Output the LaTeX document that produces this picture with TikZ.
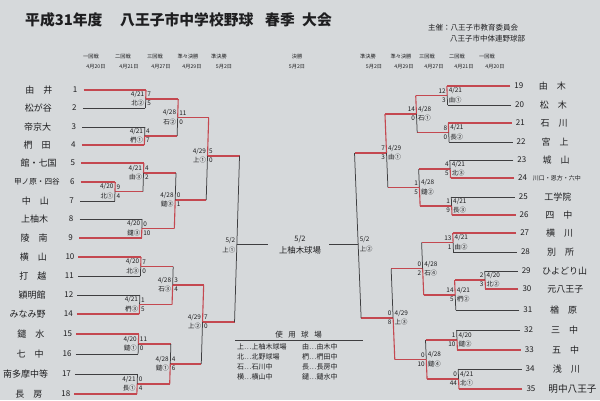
\documentclass[tikz,border=0pt]{standalone}
\usepackage{fontspec}
\setmainfont{Noto Sans CJK JP}
\definecolor{bgc}{RGB}{214,217,219}
\definecolor{wr}{RGB}{196,72,80}
\definecolor{lk}{RGB}{62,62,64}
\definecolor{tx}{RGB}{30,30,32}
\newcommand{\fsz}[1]{\fontsize{#1}{#1}\selectfont}
\tikzset{
 win/.style={draw=wr, line width=1.1pt},
 lose/.style={draw=lk, line width=0.75pt},
 lab/.style={font=\fsz{6.4}, text=tx, inner sep=0.4pt},
 team/.style={font=\fsz{9}, text=tx, inner sep=0},
 num/.style={font=\fsz{8}, text=tx, inner sep=0},
 hdr/.style={font=\fsz{5.2}, text=tx, inner sep=0},
 ven/.style={font=\fsz{7}, text=tx, inner sep=0, anchor=west},
}
% left match: x, ytop, ymid, ybot, winner(t/b), date, venue, score top, score bottom
\newcommand{\Lm}[9]{%
 \if t#5
  \draw[win] (#1,#2) -- (#1,#3); \draw[lose] (#1,#3) -- (#1,#4);
 \else
  \draw[lose] (#1,#2) -- (#1,#3); \draw[win] (#1,#3) -- (#1,#4);
 \fi
 \node[lab,anchor=east,xshift=-1pt,yshift=4.5pt] at (#1,#3) {#6};
 \node[lab,anchor=east,xshift=-1pt,yshift=-4.5pt] at (#1,#3) {#7};
 \node[lab,anchor=west,xshift=1pt,yshift=4.5pt] at (#1,#3) {#8};
 \node[lab,anchor=west,xshift=1pt,yshift=-4.5pt] at (#1,#3) {#9};
}
% right match: same, mirrored labels
\newcommand{\Rm}[9]{%
 \if t#5
  \draw[win] (#1,#2) -- (#1,#3); \draw[lose] (#1,#3) -- (#1,#4);
 \else
  \draw[lose] (#1,#2) -- (#1,#3); \draw[win] (#1,#3) -- (#1,#4);
 \fi
 \node[lab,anchor=west,xshift=1pt,yshift=4.5pt] at (#1,#3) {#6};
 \node[lab,anchor=west,xshift=1pt,yshift=-4.5pt] at (#1,#3) {#7};
 \node[lab,anchor=east,xshift=-1pt,yshift=4.5pt] at (#1,#3) {#8};
 \node[lab,anchor=east,xshift=-1pt,yshift=-4.5pt] at (#1,#3) {#9};
}
\begin{document}
\begin{tikzpicture}[x=1pt,y=-1pt]
\fill[bgc] (0,0) rectangle (600,400);
\useasboundingbox (0,0) rectangle (600,400);

% ---------- title and headers ----------
\node[font=\fsz{14.8}\bfseries, text=tx, anchor=west, inner sep=0] (ti1) at (25,20) {平成31年度};
\node[font=\fsz{14.8}\bfseries, text=tx, anchor=west, inner sep=0] (ti2) at (120,20) {八王子市中学校野球};
\node[font=\fsz{14.8}\bfseries, text=tx, anchor=west, inner sep=0] (ti3) at (265,20) {春季};
\node[font=\fsz{14.8}\bfseries, text=tx, anchor=west, inner sep=0] (ti4) at (302,20) {大会};
\node[font=\fsz{7.5}, text=tx, anchor=west, inner sep=0] (org1) at (428,28) {主催：八王子市教育委員会};
\node[font=\fsz{7.5}, text=tx, anchor=west, inner sep=0] (org2) at (450,38.5) {八王子市中体連野球部};

\node[hdr] (h1) at (91,57) {一回戦};   \node[hdr] (d1) at (96,67) {4月20日};
\node[hdr] (h2) at (123,57) {二回戦};  \node[hdr] (d2) at (129,67) {4月21日};
\node[hdr] (h3) at (155,57) {三回戦};  \node[hdr] (d3) at (161,67) {4月27日};
\node[hdr] (h4) at (188,57) {準々決勝}; \node[hdr] (d4) at (192,67) {4月29日};
\node[hdr] (h5) at (219,57) {準決勝};  \node[hdr] (d5) at (224,67) {5月2日};
\node[hdr] (h6) at (297,57) {決勝};    \node[hdr] (d6) at (297,67) {5月2日};
\node[hdr] (h7) at (368,57) {準決勝};  \node[hdr] (d7) at (374,67) {5月2日};
\node[hdr] (h8) at (401,57) {準々決勝}; \node[hdr] (d8) at (404,67) {4月29日};
\node[hdr] (h9) at (427,57) {三回戦};  \node[hdr] (d9) at (434,67) {4月27日};
\node[hdr] (h10) at (457,57) {二回戦}; \node[hdr] (d10) at (464,67) {4月21日};
\node[hdr] (h11) at (487,57) {一回戦}; \node[hdr] (d11) at (495,67) {4月20日};

% ---------- left names ----------
\begin{scope}[xshift=7.92pt, xslant=0.033]
\node[team] (n1) at (34,90) {由　井};
\node[team] (n2) at (34,108) {松が谷};
\node[team] (n3) at (34,127) {帝京大};
\node[team] (n4) at (34,145) {椚　田};
\node[team] (n5) at (36,163) {館・七国};
\node[team,font=\fsz{7.6}] (n6) at (35,182) {甲ノ原・四谷};
\node[team] (n7) at (34,201) {中　山};
\node[team] (n8) at (34,219) {上柚木};
\node[team] (n9) at (34,238) {陵　南};
\node[team] (n10) at (34,257) {横　山};
\node[team] (n11) at (34,276) {打　越};
\node[team] (n12) at (34,295) {穎明館};
\node[team] (n14) at (30,314) {みなみ野};
\node[team] (n15) at (34,334) {鑓　水};
\node[team] (n16) at (34,354) {七　中};
\node[team] (n17) at (30,374) {南多摩中等};
\node[team] (n18) at (34,394) {長　房};
\end{scope}

% ---------- left bracket ----------
\begin{scope}[xshift=7.2pt, xslant=0.03]
\foreach \n/\y in {1/90,2/108,3/127,4/145,5/163,6/182,7/201,8/219,9/238,10/257,11/276,12/295,14/314,15/334,16/354,17/374,18/394}
  \node[num] (k\n) at (70.5,\y) {\n};
% team lines
\draw[win]  (79,90)  -- (141.5,90);
\draw[lose] (79,108) -- (141.5,108);
\draw[lose] (79,127) -- (141.5,127);
\draw[win]  (79,145) -- (141.5,145);
\draw[win]  (79,163) -- (141.5,163);
\draw[win]  (79,182) -- (113.5,182);
\draw[lose] (79,201) -- (113.5,201);
\draw[lose] (79,219) -- (141.5,219);
\draw[win]  (79,238) -- (141.5,238);
\draw[win]  (79,257) -- (141.5,257);
\draw[lose] (79,276) -- (141.5,276);
\draw[lose] (79,295) -- (141.5,295);
\draw[win]  (79,314) -- (141.5,314);
\draw[win]  (79,334) -- (141.5,334);
\draw[lose] (79,354) -- (141.5,354);
\draw[lose] (79,374) -- (141.5,374);
\draw[win]  (79,394) -- (141.5,394);
% advancing lines
\draw[win] (113.5,191.5) -- (141.5,191.5);
\draw[win] (141.5,99) -- (174,99);
\draw[win] (141.5,136) -- (174,136);
\draw[win] (141.5,173) -- (174,173);
\draw[win] (141.5,228.5) -- (174,228.5);
\draw[win] (141.5,266.5) -- (174,266.5);
\draw[win] (141.5,304.5) -- (174,304.5);
\draw[win] (141.5,344) -- (174,344);
\draw[win] (141.5,384) -- (174,384);
\draw[win] (174,117.5) -- (205,117.5);
\draw[win] (174,200) -- (205,200);
\draw[win] (174,285) -- (205,285);
\draw[win] (174,364) -- (205,364);
\draw[win] (205,156) -- (237,156);
\draw[win] (205,322) -- (237,322);
% matches
\Lm{113.5}{182}{191.5}{201}{t}{4/20}{北①}{9}{4}
\Lm{141.5}{90}{99}{108}{t}{4/21}{北②}{7}{5}
\Lm{141.5}{127}{136}{145}{b}{4/21}{椚①}{4}{7}
\Lm{141.5}{163}{173}{191.5}{t}{4/21}{由③}{4}{2}
\Lm{141.5}{219}{228.5}{238}{b}{4/20}{鑓③}{0}{10}
\Lm{141.5}{257}{266.5}{276}{t}{4/20}{北③}{7}{0}
\Lm{141.5}{295}{304.5}{314}{b}{4/21}{椚③}{1}{5}
\Lm{141.5}{334}{344}{354}{t}{4/20}{鑓①}{11}{0}
\Lm{141.5}{374}{384}{394}{b}{4/21}{長①}{0}{4}
\Lm{174}{99}{117.5}{136}{t}{4/28}{石②}{11}{0}
\Lm{174}{173}{200}{228.5}{b}{4/28}{鑓③}{0}{1}
\Lm{174}{266.5}{285}{304.5}{b}{4/28}{石③}{3}{4}
\Lm{174}{344}{364}{384}{b}{4/28}{鑓①}{4}{6}
\Lm{205}{117.5}{156}{200}{t}{4/29}{上①}{5}{0}
\Lm{205}{285}{322}{364}{t}{4/29}{上②}{7}{0}
% semifinal (5/2)
\draw[lose] (237,156) -- (237,322);
\node[lab,anchor=east,xshift=-1pt,yshift=4.5pt] (lsf1) at (237,245.5) {5/2};
\node[lab,anchor=east,xshift=-1pt,yshift=-4.5pt] (lsf2) at (237,245.5) {上①};
\coordinate (LF) at (237,244);
\end{scope}

% ---------- right names ----------
\begin{scope}[xshift=-12pt, xslant=-0.05]
\node[team] (n19) at (560,86) {由　木};
\node[team] (n20) at (560,105) {松　木};
\node[team] (n21) at (560,123) {石　川};
\node[team] (n22) at (560,142) {宮　上};
\node[team] (n23) at (560,160) {城　山};
\node[team,font=\fsz{6}] (n24) at (560,178) {川口・恩方・六中};
\node[team] (n25) at (560,197) {工学院};
\node[team] (n26) at (560,215) {四　中};
\node[team] (n27) at (560,233) {横　川};
\node[team] (n28) at (560,252) {別　所};
\node[team] (n29) at (563,271) {ひよどり山};
\node[team] (n30) at (563,289) {元八王子};
\node[team] (n31) at (560,310) {楢　原};
\node[team] (n32) at (560,330) {三　中};
\node[team] (n33) at (560,350) {五　中};
\node[team] (n34) at (560,369) {浅　川};
\node[team,font=\fsz{9.6}] (n35) at (565,389) {明中八王子};
\end{scope}

% ---------- right bracket ----------
\begin{scope}[xshift=-9.6pt, xslant=-0.04]
\foreach \n/\y in {19/86,20/105,21/123,22/142,23/160,24/178,25/197,26/215,27/233,28/252,29/271,30/289,31/310,32/330,33/350,34/369,35/389}
  \node[num] (k\n) at (525,\y) {\n};
\draw[win]  (516.5,86)  -- (453,86);
\draw[lose] (516.5,105) -- (453,105);
\draw[win]  (516.5,123) -- (453,123);
\draw[lose] (516.5,142) -- (453,142);
\draw[lose] (516.5,160) -- (453,160);
\draw[win]  (516.5,178) -- (453,178);
\draw[lose] (516.5,197) -- (453,197);
\draw[win]  (516.5,215) -- (453,215);
\draw[win]  (516.5,233) -- (453,233);
\draw[lose] (516.5,252) -- (453,252);
\draw[lose] (516.5,271) -- (483.5,271);
\draw[win]  (516.5,289) -- (483.5,289);
\draw[lose] (516.5,310) -- (453,310);
\draw[lose] (516.5,330) -- (453,330);
\draw[win]  (516.5,350) -- (453,350);
\draw[lose] (516.5,369) -- (453,369);
\draw[win]  (516.5,389) -- (453,389);
% advancing lines
\draw[win] (483.5,280) -- (453,280);
\draw[win] (453,95.5) -- (421.5,95.5);
\draw[win] (453,132.5) -- (421.5,132.5);
\draw[win] (453,169) -- (421.5,169);
\draw[win] (453,206) -- (421.5,206);
\draw[win] (453,242.5) -- (421.5,242.5);
\draw[win] (453,295) -- (421.5,295);
\draw[win] (453,340) -- (421.5,340);
\draw[win] (453,379) -- (421.5,379);
\draw[win] (421.5,114) -- (390,114);
\draw[win] (421.5,187.5) -- (390,187.5);
\draw[win] (421.5,268.75) -- (390,268.75);
\draw[win] (421.5,359.5) -- (390,359.5);
\draw[win] (390,153) -- (358,153);
\draw[win] (390,318) -- (358,318);
% matches
\Rm{483.5}{271}{280}{289}{b}{4/20}{北②}{2}{3}
\Rm{453}{86}{95.5}{105}{t}{4/21}{由①}{12}{3}
\Rm{453}{123}{132.5}{142}{t}{4/21}{長②}{8}{0}
\Rm{453}{160}{169}{178}{b}{4/21}{北③}{4}{5}
\Rm{453}{197}{206}{215}{b}{4/21}{長③}{1}{9}
\Rm{453}{233}{242.5}{252}{t}{4/21}{由②}{13}{1}
\Rm{453}{280}{295}{310}{t}{4/21}{椚②}{14}{5}
\Rm{453}{330}{340}{350}{b}{4/20}{鑓②}{1}{10}
\Rm{453}{369}{379}{389}{b}{4/21}{北①}{0}{44}
\Rm{421.5}{95.5}{114}{132.5}{t}{4/28}{石①}{14}{0}
\Rm{421.5}{169}{187.5}{206}{b}{4/28}{鑓②}{1}{5}
\Rm{421.5}{242.5}{268.75}{295}{b}{4/28}{石④}{0}{2}
\Rm{421.5}{340}{359.5}{379}{b}{4/28}{鑓④}{0}{10}
\Rm{390}{114}{153}{187.5}{t}{4/29}{由①}{7}{3}
\Rm{390}{268.75}{318}{359.5}{b}{4/29}{上③}{0}{8}
\draw[lose] (358,153) -- (358,318);
\node[lab,anchor=west,xshift=1pt,yshift=4.5pt] (rsf1) at (358,244.5) {5/2};
\node[lab,anchor=west,xshift=1pt,yshift=-4.5pt] (rsf2) at (358,244.5) {上②};
\coordinate (RF) at (358,244);
\end{scope}

% ---------- final ----------
\node[font=\fsz{7.5}, text=tx, inner sep=0] (fd) at (300,239) {5/2};
\node[font=\fsz{8.4}, text=tx, inner sep=0] (fv) at (300,250.5) {上柚木球場};
\coordinate (FL) at (268,244);
\coordinate (FR) at (329,244);
\draw[lose] (LF) -- (FL);
\draw[lose] (FR) -- (RF);

% ---------- venue table ----------
\node[font=\fsz{7.5}, text=tx, inner sep=0] (vt) at (298.5,334.5) {使\hspace{5.5pt}用\hspace{5.5pt}球\hspace{5.5pt}場};
\coordinate (ul1) at (235,340.5);
\coordinate (ul2) at (363,340.5);
\draw[lk, line width=0.6pt] (ul1) -- (ul2);
\node[ven] (va1) at (237,346.5) {上…上柚木球場};
\node[ven] (va2) at (237,357) {北…北野球場};
\node[ven] (va3) at (237,367) {石…石川中};
\node[ven] (va4) at (237,377) {横…横山中};
\node[ven] (vb1) at (302,346.5) {由…由木中};
\node[ven] (vb2) at (302,357) {椚…椚田中};
\node[ven] (vb3) at (302,367) {長…長房中};
\node[ven] (vb4) at (302,377) {鑓…鑓水中};
\end{tikzpicture}
\end{document}
